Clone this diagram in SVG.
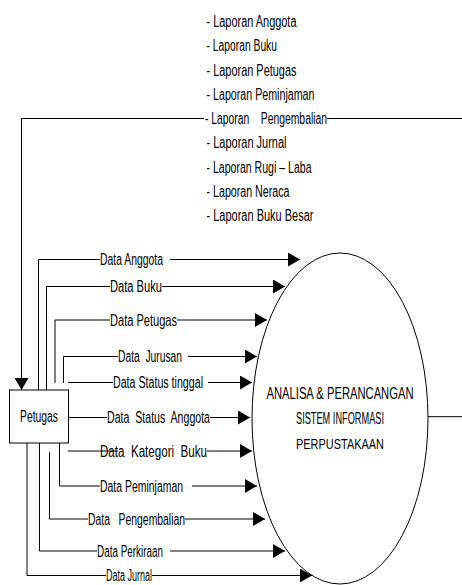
<svg xmlns="http://www.w3.org/2000/svg" width="462" height="585" viewBox="0 0 462 585">
<style>
.t{font-family:"Liberation Sans Narrow","Arial Narrow","Liberation Sans",Arial,sans-serif;font-size:16px;fill:#000;white-space:pre}
.c{stroke:#000;stroke-width:1;fill:none}
.n{fill:#fff;stroke:#000;stroke-width:1}
</style>
<defs>
<marker id="ah" markerUnits="userSpaceOnUse" markerWidth="12" markerHeight="14" refX="12" refY="7" orient="auto" viewBox="0 0 12 14">
<path d="M0,0 L12,7 L0,14 z" fill="#000"/>
</marker>
</defs>
<rect width="462" height="585" fill="#fff"/>

<g id="process">
<ellipse class="n" cx="340" cy="418.5" rx="88" ry="165.5"/>
<text class="t" x="340" y="399" text-anchor="middle" textLength="147" lengthAdjust="spacingAndGlyphs">ANALISA &amp; PERANCANGAN</text>
<text class="t" x="340" y="424" text-anchor="middle" textLength="88" lengthAdjust="spacingAndGlyphs">SISTEM INFORMASI</text>
<text x="340" y="448.5" text-anchor="middle" textLength="88" lengthAdjust="spacingAndGlyphs" style="font-family:'Liberation Sans',Arial,sans-serif;font-size:15px">PERPUSTAKAAN</text>
</g>

<g id="petugas">
<rect class="n" x="9.5" y="390" width="59" height="53"/>
<text class="t" x="39" y="422" text-anchor="middle" textLength="38" lengthAdjust="spacingAndGlyphs">Petugas</text>
</g>

<g id="connectors">
<path class="c" d="M462,118.5 H327"/>
<path class="c" d="M204,118.5 H21.5 V390" marker-end="url(#ah)"/>
<path class="c" d="M428,416.7 H462"/>

<path class="c" d="M38.5,390 V259.5 H100"/>
<path class="c" d="M170,259.5 H300" marker-end="url(#ah)"/>
<path class="c" d="M46.5,390 V286.5 H110"/>
<path class="c" d="M162,286.5 H285" marker-end="url(#ah)"/>
<path class="c" d="M55,383 V320 H110"/>
<path class="c" d="M177,320 H267" marker-end="url(#ah)"/>
<path class="c" d="M63.5,383 V356.5 H118"/>
<path class="c" d="M188,356.5 H257" marker-end="url(#ah)"/>
<path class="c" d="M68,382.5 H113"/>
<path class="c" d="M208,382.5 H252" marker-end="url(#ah)"/>
<path class="c" d="M68.5,417.5 H107"/>
<path class="c" d="M210,417.5 H250" marker-end="url(#ah)"/>
<path class="c" d="M68,451 H118"/>
<path class="c" d="M207,451 H252" marker-end="url(#ah)"/>
<path class="c" d="M59.5,443 V486 H100"/>
<path class="c" d="M192,486 H257" marker-end="url(#ah)"/>
<path class="c" d="M49.5,452 V519 H88"/>
<path class="c" d="M185,519 H265" marker-end="url(#ah)"/>
<path class="c" d="M39.5,443 V551 H97"/>
<path class="c" d="M170,551 H285" marker-end="url(#ah)"/>
<path class="c" d="M27,443 V575.5 H106"/>
<path class="c" d="M152,575.5 H312" marker-end="url(#ah)"/>
</g>

<g id="labels">
<text class="t" x="206.5" y="27" textLength="90" lengthAdjust="spacingAndGlyphs">- Laporan Anggota</text>
<text class="t" x="206.5" y="51.25" textLength="70.5" lengthAdjust="spacingAndGlyphs">- Laporan Buku</text>
<text class="t" x="206.5" y="75.5" textLength="90" lengthAdjust="spacingAndGlyphs">- Laporan Petugas</text>
<text class="t" x="206.5" y="99.75" textLength="108" lengthAdjust="spacingAndGlyphs">- Laporan Peminjaman</text>
<text class="t" x="205" y="124" textLength="122" lengthAdjust="spacingAndGlyphs">- Laporan    Pengembalian</text>
<text class="t" x="206.5" y="148.25" textLength="80" lengthAdjust="spacingAndGlyphs">- Laporan Jurnal</text>
<text class="t" x="206.5" y="172.5" textLength="105" lengthAdjust="spacingAndGlyphs">- Laporan Rugi – Laba</text>
<text class="t" x="206.5" y="196.75" textLength="83" lengthAdjust="spacingAndGlyphs">- Laporan Neraca</text>
<text class="t" x="206.5" y="221" textLength="107" lengthAdjust="spacingAndGlyphs">- Laporan Buku Besar</text>

<text class="t" x="100" y="265" textLength="63" lengthAdjust="spacingAndGlyphs">Data Anggota</text>
<text class="t" x="110" y="292" textLength="52" lengthAdjust="spacingAndGlyphs">Data Buku</text>
<text class="t" x="110" y="325.5" textLength="67" lengthAdjust="spacingAndGlyphs">Data Petugas</text>
<text class="t" x="118" y="362" textLength="64" lengthAdjust="spacingAndGlyphs">Data  Jurusan</text>
<text class="t" x="113" y="388" textLength="90" lengthAdjust="spacingAndGlyphs">Data Status tinggal</text>
<text class="t" x="107" y="423" textLength="103" lengthAdjust="spacingAndGlyphs">Data  Status  Anggota</text>
<text class="t" x="100" y="456.5" textLength="107" lengthAdjust="spacingAndGlyphs">Data  Kategori  Buku</text>
<text class="t" x="100" y="491.5" textLength="83" lengthAdjust="spacingAndGlyphs">Data Peminjaman</text>
<text class="t" x="88" y="524.5" textLength="97" lengthAdjust="spacingAndGlyphs">Data   Pengembalian</text>
<text class="t" x="97" y="556.5" textLength="66" lengthAdjust="spacingAndGlyphs">Data Perkiraan</text>
<text class="t" x="106" y="581" textLength="46" lengthAdjust="spacingAndGlyphs">Data Jurnal</text>
</g>
</svg>
